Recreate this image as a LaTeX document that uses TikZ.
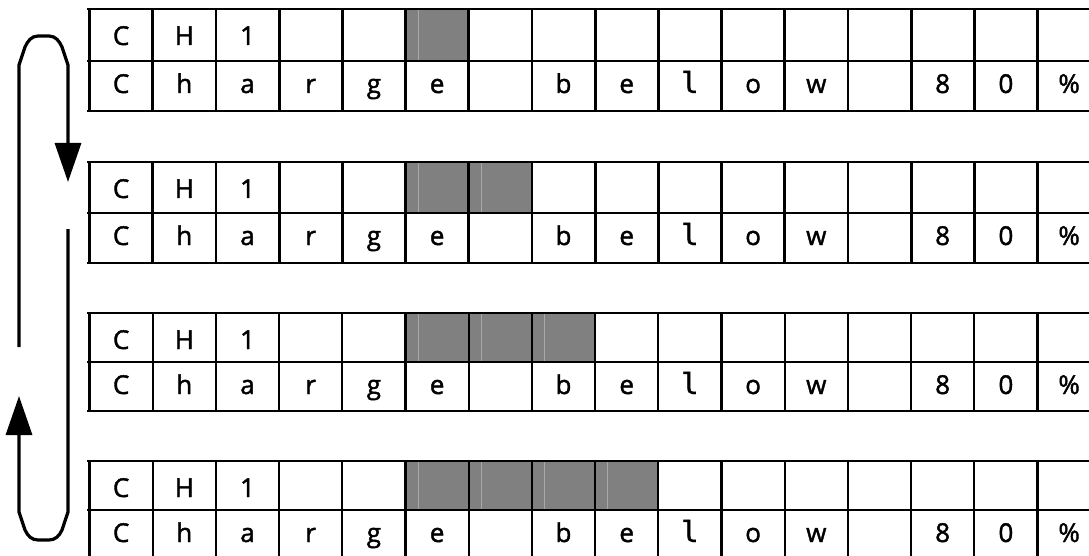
\documentclass[tikz,border=0pt]{standalone}
\usepackage{fontspec}
\setmainfont[FakeBold=1.6]{Open Sans}
\newfontfamily\monol[FakeBold=1.2]{DejaVu Sans Mono}
\usetikzlibrary{arrows.meta}
\definecolor{cellgray}{HTML}{808080}
\definecolor{streak}{HTML}{A8A8A8}
\tikzset{
  txt/.style={anchor=base, inner sep=0pt, font=\fontsize{26}{28}\selectfont},
  loop/.style={line width=3.2pt, -{Triangle[length=39pt,width=26pt]}},
}
\begin{document}
\begin{tikzpicture}[x=1pt,y=-1pt]
\useasboundingbox (0,0) rectangle (1089,556);
\clip (0,0) rectangle (1089,556);
\fill[white] (0,0) rectangle (1089,556);
\def\cw{63.2}
\def\xo{89.5}
\foreach \b/\T/\M/\B/\lw in {1/9/61/111/2.8, 2/162/213/263/2.8, 3/313/362/411/2.1, 4/461/510/559/2.1}{
  % shaded cells
  \foreach \k in {1,...,\b}{
    \fill[cellgray] ({\xo+(4+\k)*\cw},\T) rectangle ({\xo+(5+\k)*\cw},\M);
    \draw[streak, line width=0.7pt] ({\xo+(4+\k)*\cw+12.5},\T) -- ({\xo+(4+\k)*\cw+12.5},\M);
  }
  % grid
  \draw[line width=\lw pt] (87,\T) -- (1095,\T);
  \draw[line width=\lw pt] (87,\M) -- (1095,\M);
  \draw[line width=\lw pt] (87,\B) -- (1095,\B);
  \foreach \i in {0,...,16}{
    \draw[line width=\lw pt] ({\xo+\i*\cw},\T) -- ({\xo+\i*\cw},\B);
  }
  % row 1 text
  \foreach \i/\c in {1/C,2/H,3/1}{
    \node[txt] (a\b-\i) at ({\xo+(\i-0.5)*\cw},\T+36) {\c};
  }
  % row 2 text
  \foreach \i/\c in {1/C,2/h,3/a,4/r,5/g,6/e,8/b,9/e,10/{\monol\fontsize{29}{30}\selectfont l},11/o,12/w,14/8,15/0,16/\%}{
    \node[txt] (b\b-\i) at ({\xo+(\i-0.5)*\cw},\M+32) {\c};
  }
}
% loop arrows
\coordinate (s1) at (19,347);
\coordinate (e1) at (68,182);
\draw[loop] (s1) -- (19,65) -- (25,47) to[out=65,in=180] (38,36) -- (49,36) to[out=0,in=115] (62,47) -- (68,65) -- (e1);
\coordinate (s2) at (68,229);
\coordinate (e2) at (19,396);
\draw[loop] (s2) -- (68,512) -- (62,530) to[out=-115,in=0] (49,540) -- (38,540) to[out=180,in=-65] (25,530) -- (19,512) -- (e2);
\end{tikzpicture}
\end{document}
